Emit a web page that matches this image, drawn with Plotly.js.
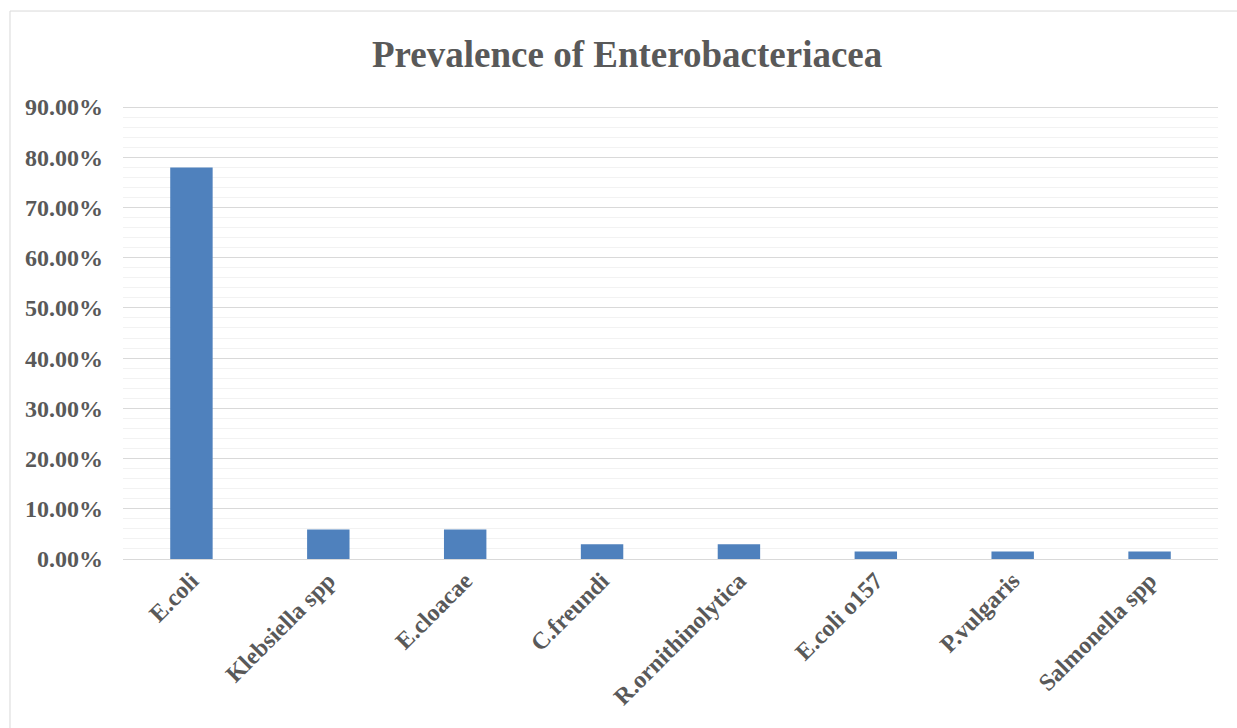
<!DOCTYPE html>
<html>
<head>
<meta charset="utf-8">
<script src="https://cdn.plot.ly/plotly-3.0.1.min.js"></script>
<style>html,body{margin:0;padding:0;background:#fff;}#chart{width:1237px;height:728px;}</style>
</head>
<body>
<div id="chart"></div>
<script>
const categories = ["E.coli", "Klebsiella spp", "E.cloacae", "C.freundi", "R.ornithinolytica", "E.coli o157", "P.vulgaris", "Salmonella spp"];
const prevalence = [0.7794, 0.0588, 0.0588, 0.0294, 0.0294, 0.0147, 0.0147, 0.0147];
const chartTitle = "Prevalence of Enterobacteriacea";

const font = "'Liberation Serif', 'Times New Roman', serif";
const trace = {
  type: 'bar',
  x: categories,
  y: prevalence,
  marker: {color: '#4f81bd', line: {width: 0}},
  width: 0.31,
  hoverinfo: 'x+y'
};
const layout = {
  width: 1237, height: 728,
  margin: {l: 123, r: 19, t: 105, b: 169, pad: 0},
  paper_bgcolor: '#ffffff', plot_bgcolor: '#ffffff',
  showlegend: false,
  title: {text: '<b>' + chartTitle + '</b>', font: {family: font, size: 37, color: '#595959'},
          xref: 'container', x: 0.507, xanchor: 'center', yref: 'container', y: 0.926, yanchor: 'middle'},
  xaxis: {
    type: 'category', tickangle: -45, ticks: '', showgrid: false, zeroline: false,
    showline: false,
    tickfont: {family: font, size: 24, color: '#595959', weight: 'bold'},
    ticklabelstandoff: 2
  },
  yaxis: {
    range: [0, 0.904], dtick: 0.1, tick0: 0, tickformat: '.2%',
    ticks: '', showline: false, zeroline: true, zerolinecolor: '#d9d9d9', zerolinewidth: 1,
    gridcolor: '#d9d9d9', gridwidth: 1,
    minor: {dtick: 0.02, showgrid: true, gridcolor: '#f2f2f2', gridwidth: 1},
    tickfont: {family: font, size: 24, color: '#595959', weight: 'bold'},
    ticklabelstandoff: 19
  },
  shapes: [{
    type: 'rect', xref: 'paper', yref: 'paper',
    x0: -0.1032, x1: 1.2, y0: -0.6, y1: 1.207,
    line: {color: '#d9d9d9', width: 1}, fillcolor: 'rgba(0,0,0,0)', layer: 'below'
  }]
};
Plotly.newPlot('chart', [trace], layout, {displayModeBar: false, staticPlot: true});
</script>
</body>
</html>
